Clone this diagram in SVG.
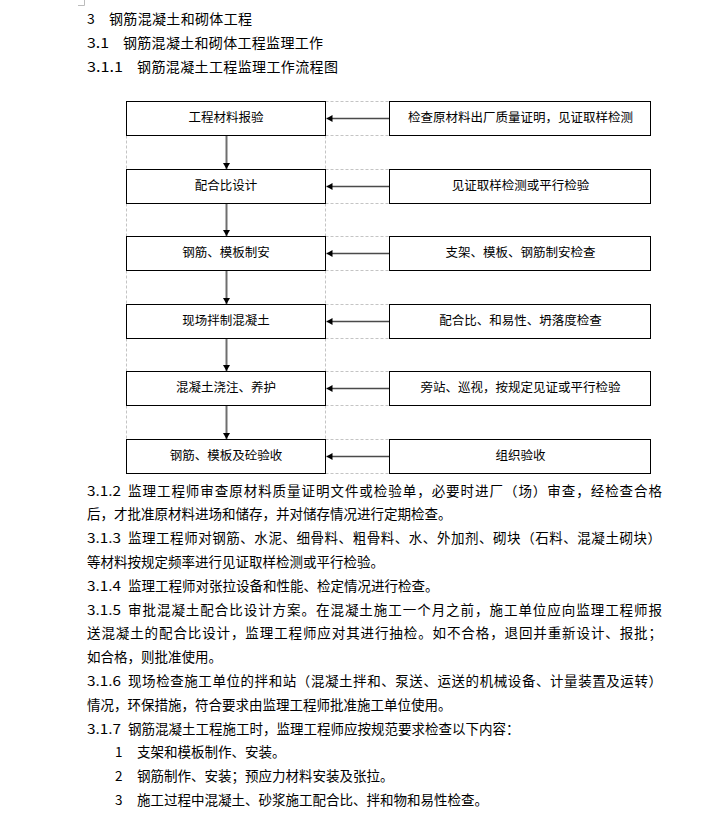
<svg xmlns="http://www.w3.org/2000/svg" width="718" height="813" viewBox="0 0 718 813">
<style>
  .t { font-family: "Noto Sans CJK SC", "Liberation Sans", sans-serif; fill: #000; }
  .h { font-size: 14px; }
  .b { font-size: 13.5px; }
  .bx { font-size: 12.5px; text-anchor: middle; }
  .box { fill: #fff; stroke: #000; stroke-width: 1; }
  .dash { stroke: #c4c4c4; stroke-width: 1; stroke-dasharray: 3 2; fill: none; }
  .vflow { stroke: #6e6e6e; stroke-width: 2; fill: none; }
  .hflow { stroke: #4a4a4a; stroke-width: 1.6; fill: none; }
</style>
<defs>
  <marker id="ah" markerUnits="userSpaceOnUse" markerWidth="8" markerHeight="8" refX="6" refY="3.5" orient="auto">
    <path d="M0,0 L6,3.5 L0,7 Z" fill="#000"/>
  </marker>
</defs>
<rect width="718" height="813" fill="#fff"/>
<path d="M78,5.5 H84.5 V0" stroke="#bcbcbc" stroke-width="1" fill="none"/>

<g id="headings">
  <text class="t h" x="87" y="24">3</text>
  <text class="t h" x="109" y="24" textLength="143" lengthAdjust="spacing">钢筋混凝土和砌体工程</text>
  <text class="t h" x="87" y="48" textLength="22" lengthAdjust="spacingAndGlyphs">3.1</text>
  <text class="t h" x="123" y="48" textLength="200" lengthAdjust="spacing">钢筋混凝土和砌体工程监理工作</text>
  <text class="t h" x="87" y="72" textLength="36" lengthAdjust="spacingAndGlyphs">3.1.1</text>
  <text class="t h" x="137" y="72" textLength="201" lengthAdjust="spacing">钢筋混凝土工程监理工作流程图</text>
</g>

<g id="grid">
  <path class="dash" d="M126.5,135.5 V169.5 M126.5,203.5 V236.5 M126.5,270.5 V304.5 M126.5,338.5 V371.5 M126.5,405.5 V439.5"/>
  <path class="dash" d="M325.5,135.5 V169.5 M325.5,203.5 V236.5 M325.5,270.5 V304.5 M325.5,338.5 V371.5 M325.5,405.5 V439.5"/>
  <path class="dash" d="M325.5,101.5 H389.5 M325.5,135.5 H389.5 M325.5,169.5 H389.5 M325.5,203.5 H389.5 M325.5,236.5 H389.5 M325.5,270.5 H389.5 M325.5,304.5 H389.5 M325.5,338.5 H389.5 M325.5,371.5 H389.5 M325.5,405.5 H389.5 M325.5,439.5 H389.5 M325.5,473.5 H389.5"/>
</g>

<g id="connectors">
  <path class="vflow" d="M226.5,136 V169" marker-end="url(#ah)"/>
  <path class="vflow" d="M226.5,204 V236" marker-end="url(#ah)"/>
  <path class="vflow" d="M226.5,271 V304" marker-end="url(#ah)"/>
  <path class="vflow" d="M226.5,339 V371" marker-end="url(#ah)"/>
  <path class="vflow" d="M226.5,406 V439" marker-end="url(#ah)"/>
  <path class="hflow" d="M389.5,118.5 H326.5" marker-end="url(#ah)"/>
  <path class="hflow" d="M389.5,186.5 H326.5" marker-end="url(#ah)"/>
  <path class="hflow" d="M389.5,253.5 H326.5" marker-end="url(#ah)"/>
  <path class="hflow" d="M389.5,321.5 H326.5" marker-end="url(#ah)"/>
  <path class="hflow" d="M389.5,388.5 H326.5" marker-end="url(#ah)"/>
  <path class="hflow" d="M389.5,456.5 H326.5" marker-end="url(#ah)"/>
</g>

<g id="n1"><rect class="box" x="126.5" y="101.5" width="199" height="34"/><text class="t bx" x="226" y="122">工程材料报验</text></g>
<g id="n2"><rect class="box" x="126.5" y="169.5" width="199" height="34"/><text class="t bx" x="226" y="190">配合比设计</text></g>
<g id="n3"><rect class="box" x="126.5" y="236.5" width="199" height="34"/><text class="t bx" x="226" y="257">钢筋、模板制安</text></g>
<g id="n4"><rect class="box" x="126.5" y="304.5" width="199" height="34"/><text class="t bx" x="226" y="325">现场拌制混凝土</text></g>
<g id="n5"><rect class="box" x="126.5" y="371.5" width="199" height="34"/><text class="t bx" x="226" y="392">混凝土浇注、养护</text></g>
<g id="n6"><rect class="box" x="126.5" y="439.5" width="199" height="34"/><text class="t bx" x="226" y="460">钢筋、模板及砼验收</text></g>

<g id="r1"><rect class="box" x="389.5" y="101.5" width="261" height="34"/><text class="t bx" x="520.5" y="122">检查原材料出厂质量证明，见证取样检测</text></g>
<g id="r2"><rect class="box" x="389.5" y="169.5" width="261" height="34"/><text class="t bx" x="520.5" y="190">见证取样检测或平行检验</text></g>
<g id="r3"><rect class="box" x="389.5" y="236.5" width="261" height="34"/><text class="t bx" x="520.5" y="257">支架、模板、钢筋制安检查</text></g>
<g id="r4"><rect class="box" x="389.5" y="304.5" width="261" height="34"/><text class="t bx" x="520.5" y="325">配合比、和易性、坍落度检查</text></g>
<g id="r5"><rect class="box" x="389.5" y="371.5" width="261" height="34"/><text class="t bx" x="520.5" y="392">旁站、巡视，按规定见证或平行检验</text></g>
<g id="r6"><rect class="box" x="389.5" y="439.5" width="261" height="34"/><text class="t bx" x="520.5" y="460">组织验收</text></g>

<g id="body">
  <text class="t b" x="87" y="495.5" textLength="34" lengthAdjust="spacingAndGlyphs">3.1.2</text>
  <text class="t b" x="128" y="495.5" textLength="534" lengthAdjust="spacing">监理工程师审查原材料质量证明文件或检验单，必要时进厂（场）审查，经检查合格</text>
  <text class="t b" x="87" y="519.3">后，才批准原材料进场和储存，并对储存情况进行定期检查。</text>
  <text class="t b" x="87" y="543.1" textLength="34" lengthAdjust="spacingAndGlyphs">3.1.3</text>
  <text class="t b" x="128" y="543.1" textLength="533" lengthAdjust="spacing">监理工程师对钢筋、水泥、细骨料、粗骨料、水、外加剂、砌块（石料、混凝土砌块）</text>
  <text class="t b" x="87" y="566.9">等材料按规定频率进行见证取样检测或平行检验。</text>
  <text class="t b" x="87" y="590.7" textLength="34" lengthAdjust="spacingAndGlyphs">3.1.4</text>
  <text class="t b" x="128" y="590.7">监理工程师对张拉设备和性能、检定情况进行检查。</text>
  <text class="t b" x="87" y="614.5" textLength="34" lengthAdjust="spacingAndGlyphs">3.1.5</text>
  <text class="t b" x="128" y="614.5" textLength="534" lengthAdjust="spacing">审批混凝土配合比设计方案。在混凝土施工一个月之前，施工单位应向监理工程师报</text>
  <text class="t b" x="87" y="638.3" textLength="575" lengthAdjust="spacing">送混凝土的配合比设计，监理工程师应对其进行抽检。如不合格，退回并重新设计、报批；</text>
  <text class="t b" x="87" y="662.1">如合格，则批准使用。</text>
  <text class="t b" x="87" y="685.9" textLength="34" lengthAdjust="spacingAndGlyphs">3.1.6</text>
  <text class="t b" x="128" y="685.9" textLength="534" lengthAdjust="spacing">现场检查施工单位的拌和站（混凝土拌和、泵送、运送的机械设备、计量装置及运转）</text>
  <text class="t b" x="87" y="709.7">情况，环保措施，符合要求由监理工程师批准施工单位使用。</text>
  <text class="t b" x="87" y="733.5" textLength="34" lengthAdjust="spacingAndGlyphs">3.1.7</text>
  <text class="t b" x="128" y="733.5">钢筋混凝土工程施工时，监理工程师应按规范要求检查以下内容：</text>
  <text class="t b" x="115" y="757.3">1</text>
  <text class="t b" x="137" y="757.3">支架和模板制作、安装。</text>
  <text class="t b" x="115" y="781.1">2</text>
  <text class="t b" x="137" y="781.1">钢筋制作、安装；预应力材料安装及张拉。</text>
  <text class="t b" x="115" y="804.9">3</text>
  <text class="t b" x="137" y="804.9">施工过程中混凝土、砂浆施工配合比、拌和物和易性检查。</text>
</g>
</svg>
